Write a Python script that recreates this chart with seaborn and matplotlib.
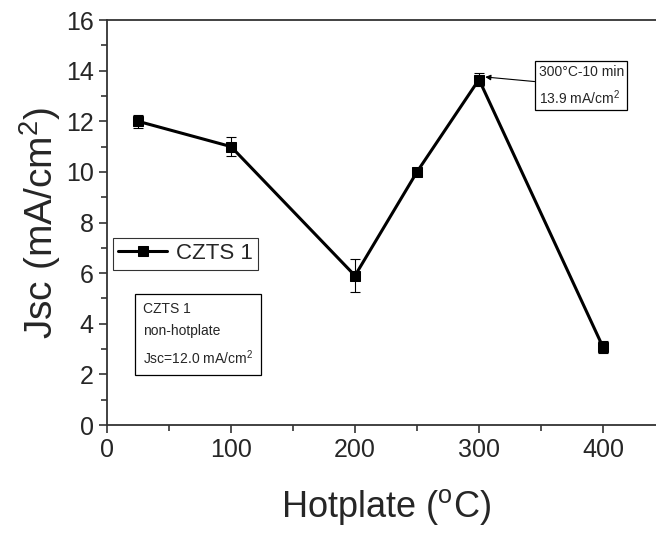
import matplotlib
matplotlib.use("Agg")
import matplotlib.pyplot as plt
import pandas as pd
import seaborn as sns
from matplotlib.ticker import MultipleLocator

# values
hotplate = [25, 100, 200, 250, 300, 400]
jsc = [12.0, 11.0, 5.9, 10.0, 13.65, 3.08]
jsc_err = [0.26, 0.38, 0.66, 0.15, 0.25, 0.22]
series_name = "CZTS 1"

df = pd.DataFrame({"hotplate": hotplate, "jsc": jsc, "series": series_name})

sns.set_style("ticks")
plt.rcParams["font.family"] = ["Liberation Sans", "DejaVu Sans"]
plt.rcParams["mathtext.fontset"] = "custom"
plt.rcParams["mathtext.rm"] = "Liberation Sans"
plt.rcParams["mathtext.it"] = "Liberation Sans"

fig = plt.figure(figsize=(6.56, 5.33), dpi=100)
ax = fig.add_axes([0.1631, 0.2026, 0.8506, 0.7598])

ax.errorbar(hotplate, jsc, yerr=jsc_err, fmt="none", ecolor="black",
            elinewidth=0.8, capsize=3.5, capthick=0.8, zorder=2)
sns.lineplot(data=df, x="hotplate", y="jsc", hue="series", palette=["black"],
             marker="s", markersize=7, markeredgecolor="black", linewidth=2.2,
             ax=ax, zorder=3)

ax.set_xlim(0, 450)
ax.set_ylim(0, 16)
ax.set_xticks([0, 100, 200, 300, 400])
ax.xaxis.set_minor_locator(MultipleLocator(50))
ax.yaxis.set_major_locator(MultipleLocator(2))
ax.yaxis.set_minor_locator(MultipleLocator(1))
ax.tick_params(which="major", length=6, width=1.1, labelsize=18,
               direction="out", color="#222222")
ax.tick_params(which="minor", length=4, width=1.1, direction="out",
               color="#222222")
ax.spines["right"].set_visible(False)
for s in ["left", "bottom", "top"]:
    ax.spines[s].set_linewidth(1.3)
    ax.spines[s].set_color("#333333")

ax.set_xlabel("Hotplate ($\\mathregular{^{o}}$C)", fontsize=26, labelpad=18)
ax.set_ylabel("Jsc (mA/cm$\\mathregular{^{2}}$)", fontsize=28, labelpad=2)

leg = ax.legend(loc="upper left", bbox_to_anchor=(0.01, 0.463), fontsize=16,
                frameon=True, fancybox=False, edgecolor="black",
                handlelength=2.2, handletextpad=0.4, borderpad=0.25,
                borderaxespad=0)
leg.get_frame().set_linewidth(0.8)

ax.text(29, 4.86, "CZTS 1\nnon-hotplate\nJsc=12.0 mA/cm$\\mathregular{^{2}}$",
        fontsize=10, va="top", ha="left", linespacing=1.7,
        bbox=dict(boxstyle="square,pad=0.55", fc="white", ec="black", lw=0.9))

ax.annotate("300°C-10 min\n13.9 mA/cm$\\mathregular{^{2}}$",
            xy=(305, 13.75), xytext=(348, 13.4), fontsize=10,
            va="center", ha="left", linespacing=1.6,
            bbox=dict(boxstyle="square,pad=0.25", fc="white", ec="black", lw=0.9),
            arrowprops=dict(arrowstyle="-|>", color="black", lw=0.8,
                            shrinkA=0, shrinkB=0, mutation_scale=8))

fig.savefig("out.png", dpi=100)
